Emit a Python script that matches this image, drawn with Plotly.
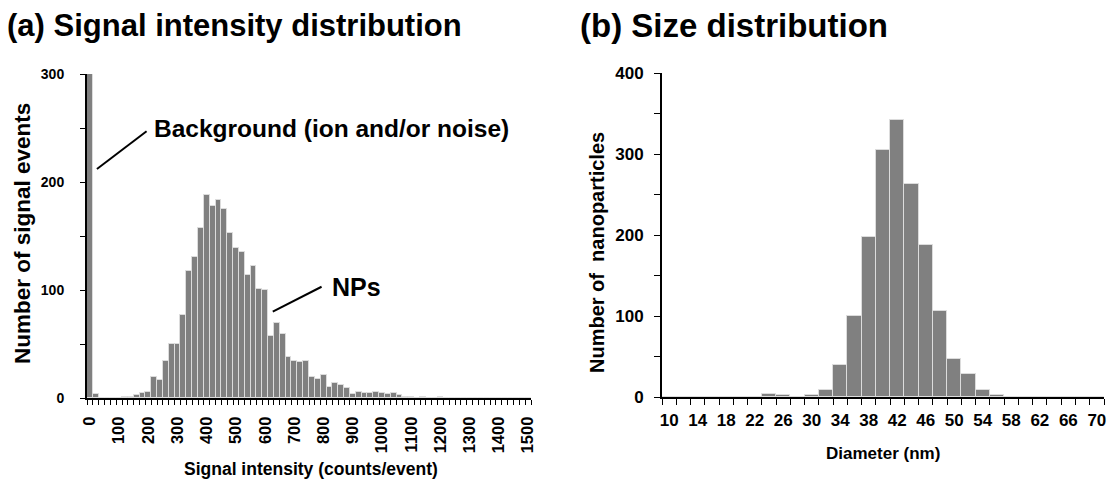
import plotly.graph_objects as go

# ---------------- data ----------------
# (a) signal intensity histogram: bin centres (counts/event) and counts
intensity_bins = list(range(0, 1501, 20))
intensity_counts = [
    1500, 4, 0, 0, 0, 0, 1, 1, 3, 5,
    6, 19, 17, 34, 50, 50, 77, 118, 131, 157,
    188, 178, 183, 175, 153, 139, 135, 114, 122, 101,
    100, 57, 69, 59, 38, 34, 33, 34, 19, 18,
    21, 10, 14, 12, 9, 4, 6, 5, 5, 6,
    5, 4, 5, 3, 1, 1, 0, 1, 0, 0,
    1, 0, 0, 0, 0, 0, 0, 0, 0, 0,
    0, 0, 0, 0, 0, 0,
]
intensity_labels = list(range(0, 1501, 100))
intensity_yticks = [0, 50, 100, 150, 200, 250, 300]

# (b) size histogram: diameters (nm) and counts
diameters = list(range(10, 71, 2))
size_counts = [
    0, 0, 0, 0, 0, 0, 0, 4, 2, 0,
    2, 9, 40, 100, 198, 305, 342, 263, 188, 106,
    47, 28, 9, 3, 0, 0, 0, 0, 0, 0, 0,
]
diameter_labels = list(range(10, 71, 4))
size_yticks = [0, 50, 100, 150, 200, 250, 300, 350, 400]

FONT = "Liberation Sans, Arial, Helvetica, sans-serif"
BAR = "#808080"
EDGE = "#dcdcdc"

fig = go.Figure()

fig.add_trace(go.Bar(
    x=intensity_bins, y=intensity_counts, width=20,
    marker=dict(color=BAR, line=dict(color=EDGE, width=1)),
    xaxis="x", yaxis="y", showlegend=False,
))
fig.add_trace(go.Bar(
    x=diameters, y=size_counts, width=2,
    marker=dict(color=BAR, line=dict(color=EDGE, width=1)),
    xaxis="x2", yaxis="y2", showlegend=False,
))

# category boundaries for minor ticks
left_edges = [b - 10 for b in intensity_bins] + [intensity_bins[-1] + 10]
right_edges = [d - 1 for d in diameters] + [diameters[-1] + 1]


def axis_common(size):
    return dict(
        showgrid=False, zeroline=False, showline=True, linecolor="black",
        linewidth=2, tickcolor="black", tickwidth=1.3, automargin=False,
        tickfont=dict(family=FONT, color="black", weight="bold", size=size),
    )


fig.update_layout(
    width=1110, height=480,
    margin=dict(l=0, r=0, t=0, b=0),
    paper_bgcolor="white", plot_bgcolor="white",
    bargap=0,
    font=dict(family=FONT, color="black", weight="bold"),
    xaxis=dict(
        **axis_common(16.5),
        domain=[87 / 1110, 531 / 1110], anchor="y",
        range=[-10, 1510],
        tickmode="array", tickvals=intensity_labels,
        ticktext=[str(v) for v in intensity_labels],
        ticks="", tickangle=-90, ticklabelstandoff=10,
        minor=dict(tickmode="array", tickvals=left_edges, ticks="outside",
                   ticklen=5, tickcolor="black", tickwidth=1.3),
    ),
    yaxis=dict(
        **axis_common(14),
        domain=[1 - 398 / 480, 1 - 74 / 480], anchor="x",
        range=[0, 300],
        tickmode="array", tickvals=intensity_yticks,
        ticktext=[str(v) if v % 100 == 0 else "" for v in intensity_yticks],
        ticks="outside", ticklen=5, ticklabelstandoff=13,
    ),
    xaxis2=dict(
        **axis_common(17),
        domain=[662 / 1110, 1104 / 1110], anchor="y2",
        range=[9, 71],
        tickmode="array", tickvals=diameter_labels,
        ticktext=[str(v) for v in diameter_labels],
        ticks="", ticklabelstandoff=7,
        minor=dict(tickmode="array", tickvals=right_edges, ticks="outside",
                   ticklen=6, tickcolor="black", tickwidth=1.3),
    ),
    yaxis2=dict(
        **axis_common(17),
        domain=[1 - 397 / 480, 1 - 73 / 480], anchor="x2",
        range=[0, 400],
        tickmode="array", tickvals=size_yticks,
        ticktext=[str(v) if v % 100 == 0 else "" for v in size_yticks],
        ticks="outside", ticklen=6, ticklabelstandoff=7,
    ),
)


def txt(text, x, y, size, xref="paper", yref="paper", xanchor="center",
        yanchor="middle", angle=0):
    fig.add_annotation(text=text, x=x, y=y, xref=xref, yref=yref,
                       xanchor=xanchor, yanchor=yanchor, textangle=angle,
                       showarrow=False,
                       font=dict(family=FONT, size=size, color="black",
                                 weight="bold"))


# panel titles
txt("(a) Signal intensity distribution", 5 / 1110, 1 - 25 / 480, 31, xanchor="left")
txt("(b) Size distribution", 578 / 1110, 1 - 25 / 480, 33, xanchor="left")

# axis titles
txt("Signal intensity (counts/event)", 311 / 1110, 1 - 469 / 480, 17.5)
txt("Diameter (nm)", 883 / 1110, 1 - 453 / 480, 17)
txt("Number of signal events", 22 / 1110, 1 - 234 / 480, 22.5, angle=-90)
txt("Number of  nanoparticles", 597 / 1110, 1 - 252 / 480, 20, angle=-90)

# callouts (data coordinates of the left panel)
txt("Background (ion and/or noise)", 212, 250, 24.5, xref="x", yref="y", xanchor="left")
txt("NPs", 822, 103, 25, xref="x", yref="y", xanchor="left")
fig.add_shape(type="line", xref="x", yref="y", x0=24, y0=212, x1=194, y1=247,
              line=dict(color="black", width=2))
fig.add_shape(type="line", xref="x", yref="y", x0=626, y0=80, x1=793, y1=103,
              line=dict(color="black", width=2))

fig.write_html("out.html")
